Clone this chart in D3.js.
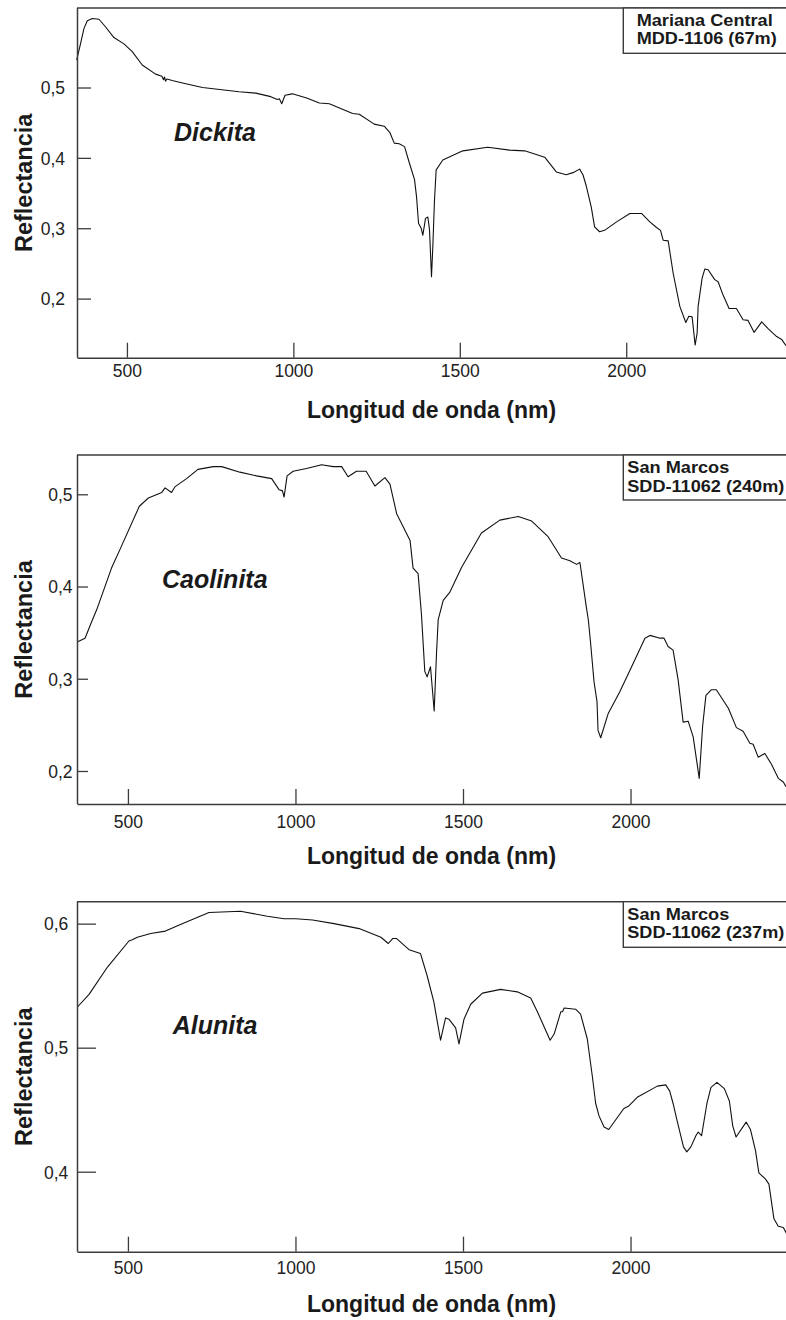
<!DOCTYPE html>
<html>
<head>
<meta charset="utf-8">
<script src="https://cdn.jsdelivr.net/npm/d3@7"></script>
<style>
  html, body { margin: 0; padding: 0; background: #fff; }
  svg { display: block; font-family: "Liberation Sans", Arial, Helvetica, sans-serif; }
</style>
</head>
<body>
<svg id="chart" width="786" height="1320"></svg>
<script>
// ---------------- DATA ----------------
const minerals = ["Dickita", "Caolinita", "Alunita"];
const siteLine1 = ["Mariana Central", "San Marcos", "San Marcos"];
const siteLine2 = ["MDD-1106 (67m)", "SDD-11062 (240m)", "SDD-11062 (237m)"];
const xTickValues = [500, 1000, 1500, 2000];
const yTicksDickita = [0.2, 0.3, 0.4, 0.5];
const yTicksCaolinita = [0.2, 0.3, 0.4, 0.5];
const yTicksAlunita = [0.4, 0.5, 0.6];
const xTitle = "Longitud de onda (nm)";
const yTitle = "Reflectancia";

const dickitaNm = [349,361,371,381,396,416,436,461,491,516,546,586,605,610,613,616,620,636,680,727,837,887,932,952,958,965,975,997,1040,1078,1108,1178,1198,1243,1273,1290,1303,1318,1334,1349,1364,1370,1376,1384,1389,1397,1404,1409,1415,1419,1424,1429,1449,1509,1584,1650,1695,1755,1790,1820,1840,1860,1870,1880,1895,1905,1920,1935,1971,2011,2046,2071,2091,2103,2111,2126,2141,2161,2179,2188,2198,2207,2213,2216,2228,2236,2246,2266,2276,2291,2309,2331,2351,2366,2384,2407,2427,2452,2467,2480];
const dickitaR = [0.539,0.563,0.584,0.595,0.598,0.597,0.586,0.571,0.562,0.551,0.532,0.519,0.516,0.511,0.515,0.509,0.512,0.510,0.505,0.500,0.494,0.492,0.487,0.483,0.484,0.477,0.489,0.491,0.485,0.478,0.477,0.463,0.462,0.448,0.445,0.436,0.421,0.420,0.416,0.392,0.369,0.345,0.307,0.300,0.290,0.314,0.316,0.298,0.231,0.274,0.340,0.383,0.397,0.410,0.415,0.411,0.410,0.401,0.380,0.376,0.379,0.384,0.376,0.360,0.330,0.302,0.295,0.297,0.309,0.321,0.321,0.309,0.301,0.297,0.283,0.282,0.236,0.189,0.166,0.175,0.174,0.134,0.151,0.189,0.229,0.242,0.241,0.227,0.224,0.205,0.186,0.186,0.170,0.169,0.152,0.167,0.157,0.146,0.142,0.133];

const caolinitaNm = [350,372,392,407,451,476,534,561,601,611,630,640,675,709,755,780,834,884,929,951,961,966,975,993,1033,1078,1113,1138,1157,1182,1211,1237,1267,1282,1302,1342,1351,1366,1376,1386,1393,1403,1414,1421,1426,1441,1461,1496,1555,1610,1665,1705,1754,1794,1819,1839,1849,1868,1874,1880,1891,1900,1903,1911,1933,1968,1998,2043,2058,2088,2100,2112,2127,2142,2157,2172,2187,2205,2215,2225,2241,2256,2292,2316,2336,2356,2366,2381,2401,2421,2441,2456,2464];
const caolinitaR = [0.340,0.344,0.362,0.375,0.420,0.440,0.487,0.496,0.502,0.507,0.502,0.508,0.517,0.527,0.530,0.530,0.524,0.520,0.517,0.505,0.504,0.497,0.520,0.525,0.528,0.532,0.530,0.530,0.519,0.525,0.525,0.509,0.518,0.511,0.479,0.450,0.420,0.414,0.370,0.308,0.302,0.313,0.265,0.328,0.364,0.385,0.394,0.421,0.458,0.472,0.476,0.471,0.454,0.431,0.428,0.424,0.426,0.378,0.364,0.342,0.297,0.275,0.244,0.236,0.262,0.286,0.309,0.344,0.347,0.344,0.344,0.335,0.331,0.299,0.253,0.254,0.237,0.192,0.248,0.282,0.288,0.288,0.268,0.247,0.243,0.230,0.229,0.215,0.219,0.207,0.192,0.188,0.183];

const alunitaNm = [350,384,439,503,513,528,568,612,662,742,836,916,966,1001,1051,1115,1190,1255,1277,1290,1302,1339,1373,1393,1413,1433,1448,1458,1478,1488,1503,1523,1558,1612,1662,1702,1722,1760,1772,1792,1797,1802,1836,1851,1871,1886,1896,1906,1921,1935,1980,1995,2020,2080,2105,2117,2127,2140,2158,2168,2180,2195,2202,2212,2228,2240,2258,2280,2295,2305,2315,2345,2358,2373,2383,2403,2413,2428,2441,2456,2466];
const alunitaR = [0.533,0.543,0.565,0.586,0.587,0.589,0.592,0.594,0.600,0.609,0.610,0.606,0.604,0.604,0.603,0.600,0.596,0.589,0.584,0.588,0.588,0.579,0.576,0.558,0.537,0.506,0.524,0.523,0.516,0.503,0.523,0.535,0.544,0.547,0.545,0.540,0.529,0.506,0.511,0.529,0.529,0.532,0.531,0.527,0.507,0.477,0.455,0.445,0.436,0.434,0.451,0.453,0.460,0.469,0.470,0.465,0.455,0.440,0.420,0.416,0.420,0.429,0.432,0.429,0.455,0.468,0.472,0.467,0.457,0.437,0.428,0.440,0.434,0.417,0.399,0.394,0.390,0.362,0.356,0.355,0.350];

// ---------------- LAYOUT ----------------
const panels = [
  { nm: dickitaNm, r: dickitaR, yTicks: yTicksDickita, top: 8, bottom: 357.7,
    xDom: [350, 2480], yDom: [0.116, 0.613], yTickLen: 14, yLabelX: 65, xLabelDy: 19.6,
    boxBottom: 53.3, siteX: 636.7, siteY1: 25.5, siteY2: 44, siteW1: 136, siteW2: 140,
    minX: 174, minY: 140.7 },
  { nm: caolinitaNm, r: caolinitaR, yTicks: yTicksCaolinita, top: 455, bottom: 804,
    xDom: [348, 2464], yDom: [0.1642, 0.5426], yTickLen: 11, yLabelX: 72.5, xLabelDy: 24.3,
    boxBottom: 500, siteX: 627.3, siteY1: 473, siteY2: 491.5, siteW1: 102, siteW2: 157,
    minX: 162, minY: 587.7 },
  { nm: alunitaNm, r: alunitaR, yTicks: yTicksAlunita, top: 901.7, bottom: 1251.7,
    xDom: [348, 2464], yDom: [0.3355, 0.6177], yTickLen: 19, yLabelX: 68.3, xLabelDy: 22.6,
    boxBottom: 947.3, siteX: 627.3, siteY1: 919.5, siteY2: 938, siteW1: 102, siteW2: 157,
    minX: 172.7, minY: 1034 }
];
const left = 77, right = 786, boxLeft = 623.3;
const axisColor = "#3c3c3c";
const fmt = v => d3.format(".1f")(v).replace(".", ",");

const svg = d3.select("#chart");

panels.forEach((p, i) => {
  const x = d3.scaleLinear().domain(p.xDom).range([left, right]);
  const y = d3.scaleLinear().domain(p.yDom).range([p.bottom, p.top]);
  const g = svg.append("g");

  // curve
  const pts = p.nm.map((n, k) => [n, p.r[k]]);
  g.append("path")
    .datum(pts)
    .attr("fill", "none")
    .attr("stroke", "#111")
    .attr("stroke-width", 1.1)
    .attr("stroke-linejoin", "round")
    .attr("d", d3.line().x(d => x(d[0])).y(d => y(d[1])));

  // top frame line
  g.append("line")
    .attr("x1", left).attr("x2", right + 2)
    .attr("y1", p.top).attr("y2", p.top)
    .attr("stroke", axisColor).attr("stroke-width", 1.5);

  // x axis
  const xAxis = d3.axisBottom(x).tickValues(xTickValues).tickFormat(d3.format("d"))
    .tickSizeInner(-15).tickSizeOuter(0).tickPadding(0);
  const gx = g.append("g").attr("transform", `translate(0,${p.bottom})`).call(xAxis);
  gx.select(".domain").attr("stroke", axisColor).attr("stroke-width", 1.5);
  gx.selectAll(".tick line").attr("stroke", axisColor).attr("stroke-width", 1.3);
  gx.selectAll(".tick text")
    .attr("y", p.xLabelDy).attr("dy", null)
    .attr("fill", "#222").attr("font-size", 17.5)
    .attr("font-family", "Liberation Sans, Arial, sans-serif");

  // y axis
  const yAxis = d3.axisLeft(y).tickValues(p.yTicks).tickFormat(fmt).tickSizeInner(-p.yTickLen).tickSizeOuter(0).tickPadding(0);
  const gy = g.append("g").attr("transform", `translate(${left},0)`).call(yAxis);
  gy.select(".domain").attr("stroke", axisColor).attr("stroke-width", 1.5)
    .attr("d", `M0.5,${p.top}V${p.bottom}`);
  gy.selectAll(".tick line").attr("stroke", axisColor).attr("stroke-width", 1.3);
  gy.selectAll(".tick text")
    .attr("x", p.yLabelX - left).attr("dy", "0.36em")
    .attr("fill", "#222").attr("font-size", 17.5)
    .attr("font-family", "Liberation Sans, Arial, sans-serif");

  // axis titles
  g.append("text")
    .attr("x", (left + right) / 2 + 0).attr("y", p.bottom + 60)
    .attr("text-anchor", "middle").attr("font-weight", "bold")
    .attr("font-size", 23).attr("fill", "#1a1a1a")
    .text(xTitle);
  g.append("text")
    .attr("transform", `translate(31.5,${(p.top + p.bottom) / 2}) rotate(-90)`)
    .attr("text-anchor", "middle").attr("font-weight", "bold")
    .attr("font-size", 23.5).attr("fill", "#1a1a1a")
    .text(yTitle);

  // mineral name
  g.append("text")
    .attr("x", p.minX).attr("y", p.minY)
    .attr("font-weight", "bold").attr("font-style", "italic")
    .attr("font-size", 25).attr("fill", "#1a1a1a")
    .text(minerals[i]);

  // site box
  g.append("rect")
    .attr("x", boxLeft).attr("y", p.top)
    .attr("width", right + 10 - boxLeft).attr("height", p.boxBottom - p.top)
    .attr("fill", "#fff").attr("stroke", axisColor).attr("stroke-width", 1.4);
  const st = g.append("text")
    .attr("font-weight", "bold").attr("font-size", 16.5).attr("fill", "#1a1a1a");
  st.append("tspan").attr("x", p.siteX).attr("y", p.siteY1)
    .attr("textLength", p.siteW1).attr("lengthAdjust", "spacingAndGlyphs").text(siteLine1[i]);
  st.append("tspan").attr("x", p.siteX).attr("y", p.siteY2)
    .attr("textLength", p.siteW2).attr("lengthAdjust", "spacingAndGlyphs").text(siteLine2[i]);
});
</script>
</body>
</html>
